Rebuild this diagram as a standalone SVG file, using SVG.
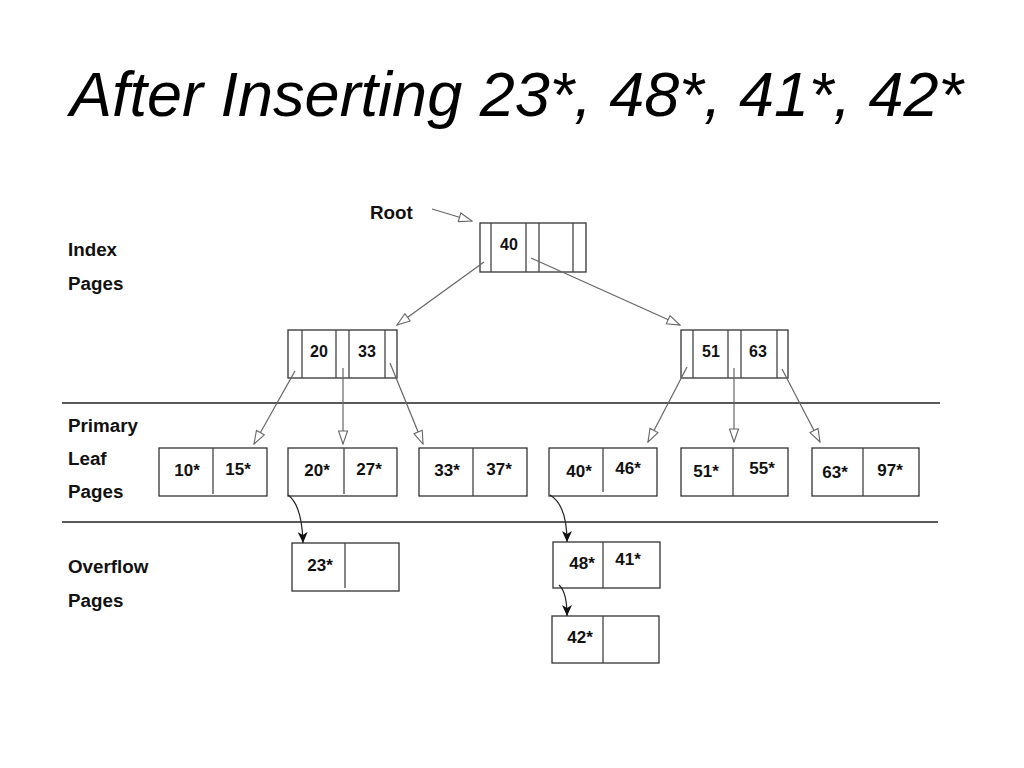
<svg xmlns="http://www.w3.org/2000/svg" width="1024" height="768" viewBox="0 0 1024 768">
<style>
.title{font-family:"Liberation Sans",Arial,sans-serif;font-style:italic;font-size:63px;fill:#000}
.lbl{font-family:"Liberation Sans",Arial,sans-serif;font-weight:bold;font-size:18.8px;fill:#111}
.k{font-family:"Liberation Sans",Arial,sans-serif;font-weight:bold;font-size:16px;fill:#111;text-anchor:middle}
.e{font-family:"Liberation Sans",Arial,sans-serif;font-weight:bold;font-size:17px;fill:#111;text-anchor:middle}
.box{fill:#fff;stroke:#333;stroke-width:1.3}
.div{stroke:#444;stroke-width:1.3}
.sep{stroke:#222;stroke-width:1.3}
.ptr{stroke:#666;stroke-width:1.2;fill:none;marker-end:url(#open)}
.ovf{stroke:#222;stroke-width:1.2;fill:none;marker-end:url(#solid)}
</style>
<defs>
<marker id="open" viewBox="0 0 15 11" refX="14" refY="5.5" markerWidth="15" markerHeight="11" markerUnits="userSpaceOnUse" orient="auto">
<path d="M1,1 L14,5.5 L1,10 Z" fill="#fff" stroke="#666" stroke-width="1.1"/>
</marker>
<marker id="solid" viewBox="0 0 12 10" refX="11" refY="5" markerWidth="12" markerHeight="10" markerUnits="userSpaceOnUse" orient="auto">
<path d="M0,0 L11,5 L0,10 L3,5 Z" fill="#111"/>
</marker>
</defs>
<rect width="1024" height="768" fill="#fff"/>
<text class="title" x="70" y="116">After Inserting 23*, 48*, 41*, 42*</text>

<g id="labels">
<text class="lbl" x="68" y="256">Index</text>
<text class="lbl" x="68" y="290">Pages</text>
<text class="lbl" x="68" y="432">Primary</text>
<text class="lbl" x="68" y="465">Leaf</text>
<text class="lbl" x="68" y="498">Pages</text>
<text class="lbl" x="68" y="573">Overflow</text>
<text class="lbl" x="68" y="607">Pages</text>
<text class="lbl" x="370" y="219">Root</text>
</g>

<g id="separators">
<line class="sep" x1="62" y1="403" x2="940" y2="403"/>
<line class="sep" x1="62" y1="522" x2="938" y2="522"/>
</g>

<g id="root">
<rect class="box" x="480" y="223" width="106" height="49"/>
<line class="div" x1="491" y1="223" x2="491" y2="272"/>
<line class="div" x1="526" y1="223" x2="526" y2="272"/>
<line class="div" x1="539" y1="223" x2="539" y2="272"/>
<line class="div" x1="573" y1="223" x2="573" y2="272"/>
<text class="k" x="509" y="250">40</text>
</g>

<g id="index-left">
<rect class="box" x="288" y="330" width="109" height="48"/>
<line class="div" x1="302" y1="330" x2="302" y2="378"/>
<line class="div" x1="336" y1="330" x2="336" y2="378"/>
<line class="div" x1="349" y1="330" x2="349" y2="378"/>
<line class="div" x1="385" y1="330" x2="385" y2="378"/>
<text class="k" x="319" y="357">20</text>
<text class="k" x="367" y="357">33</text>
</g>

<g id="index-right">
<rect class="box" x="681" y="330" width="107" height="48"/>
<line class="div" x1="693" y1="330" x2="693" y2="378"/>
<line class="div" x1="728" y1="330" x2="728" y2="378"/>
<line class="div" x1="741" y1="330" x2="741" y2="378"/>
<line class="div" x1="777" y1="330" x2="777" y2="378"/>
<text class="k" x="711" y="357">51</text>
<text class="k" x="758" y="357">63</text>
</g>

<g id="leaf-1">
<rect class="box" x="159" y="448" width="108" height="48"/>
<line class="div" x1="213" y1="448" x2="213" y2="494"/>
<text class="e" x="187" y="476">10*</text>
<text class="e" x="238" y="475">15*</text>
</g>
<g id="leaf-2">
<rect class="box" x="288" y="448" width="109" height="48"/>
<line class="div" x1="344" y1="448" x2="344" y2="494"/>
<text class="e" x="317" y="476">20*</text>
<text class="e" x="369" y="475">27*</text>
</g>
<g id="leaf-3">
<rect class="box" x="419" y="448" width="108" height="48"/>
<line class="div" x1="473" y1="448" x2="473" y2="496"/>
<text class="e" x="447" y="476">33*</text>
<text class="e" x="499" y="475">37*</text>
</g>
<g id="leaf-4">
<rect class="box" x="549" y="448" width="108" height="48"/>
<line class="div" x1="603" y1="448" x2="603" y2="492"/>
<text class="e" x="579" y="477">40*</text>
<text class="e" x="628" y="474">46*</text>
</g>
<g id="leaf-5">
<rect class="box" x="681" y="448" width="107" height="48"/>
<line class="div" x1="733" y1="448" x2="733" y2="496"/>
<text class="e" x="706" y="477">51*</text>
<text class="e" x="762" y="474">55*</text>
</g>
<g id="leaf-6">
<rect class="box" x="812" y="448" width="107" height="48"/>
<line class="div" x1="863" y1="448" x2="863" y2="496"/>
<text class="e" x="835" y="478">63*</text>
<text class="e" x="890" y="476">97*</text>
</g>

<g id="overflow-1">
<rect class="box" x="292" y="543" width="107" height="48"/>
<line class="div" x1="345" y1="543" x2="345" y2="588"/>
<text class="e" x="320" y="571">23*</text>
</g>
<g id="overflow-2">
<rect class="box" x="553" y="542" width="107" height="46"/>
<line class="div" x1="603" y1="542" x2="603" y2="588"/>
<text class="e" x="582" y="569">48*</text>
<text class="e" x="628" y="565">41*</text>
</g>
<g id="overflow-3">
<rect class="box" x="552" y="616" width="107" height="47"/>
<line class="div" x1="603" y1="616" x2="603" y2="663"/>
<text class="e" x="580" y="643">42*</text>
</g>

<g id="connectors">
<line class="ptr" x1="432" y1="209" x2="472" y2="221"/>
<line class="ptr" x1="484" y1="262" x2="397" y2="325"/>
<line class="ptr" x1="531" y1="258" x2="680" y2="325"/>
<line class="ptr" x1="295" y1="371" x2="254" y2="444"/>
<line class="ptr" x1="343" y1="368" x2="343" y2="444"/>
<line class="ptr" x1="390" y1="363" x2="423" y2="444"/>
<line class="ptr" x1="687" y1="367" x2="648" y2="442"/>
<line class="ptr" x1="734" y1="368" x2="734" y2="442"/>
<line class="ptr" x1="782" y1="369" x2="820" y2="442"/>
<path class="ovf" d="M288,495 Q302,505 303,543"/>
<path class="ovf" d="M550,495 Q567,505 567,542"/>
<path class="ovf" d="M559,585 Q567,592 567,616"/>
</g>
</svg>
